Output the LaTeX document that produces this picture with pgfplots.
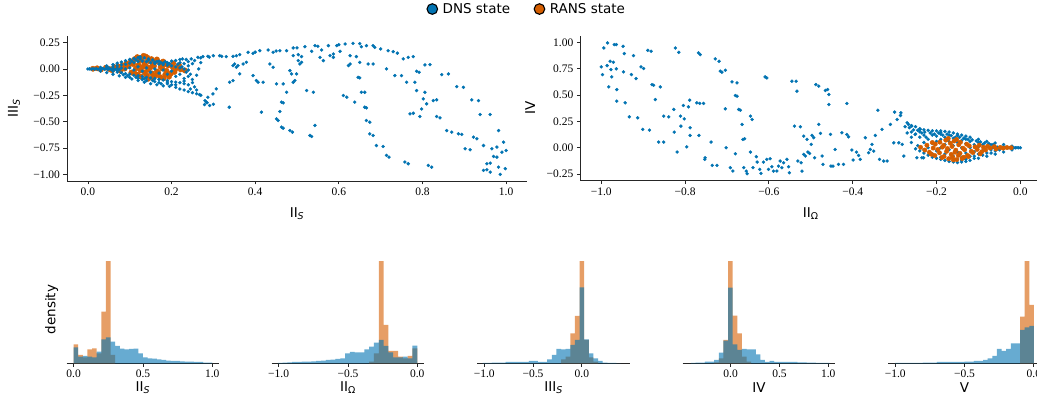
\documentclass[border=0pt]{standalone}
\usepackage{pgfplots}
\pgfplotsset{compat=1.18}
\usepackage{fontspec}
\setmainfont{Liberation Serif}
\newfontfamily\dejavu{DejaVu Sans}
\definecolor{dnsblue}{HTML}{0173B2}
\definecolor{ransorange}{HTML}{D55E00}
\newcommand{\lblfont}{\dejavu\fontsize{13.5}{16}\selectfont}
\pgfplotsset{
  base/.style={scale only axis, axis line style={-, line width=0.8pt, black!85},
    tick style={line width=0.8pt, black!85}, tick align=outside, major tick length=3.5pt,
    ticklabel style={font=\fontsize{11.5}{13}\selectfont}},
  scat/.style={base, axis x line*=bottom, axis y line*=left, width=460pt, height=145pt},
  hist/.style={base, axis x line*=bottom, axis y line=none, width=152.5pt, height=107.4pt,
    ymin=0, ymax=322.35},
  bluedot/.style={color=dnsblue, only marks, mark=*, mark size=1.5pt, forget plot},
  orangedot/.style={color=ransorange, only marks, mark=*, mark size=#1, forget plot},
  bh/.style={ybar interval, fill=dnsblue, fill opacity=0.6, draw=none, forget plot},
  oh/.style={ybar interval, fill=ransorange, fill opacity=0.6, draw=none, forget plot},
}
\begin{document}
\begin{tikzpicture}
\useasboundingbox (0pt,0pt) rectangle (1037pt,402pt);
% ---------------- top left
\begin{axis}[scat, name=tl, at={(67pt,221pt)}, anchor=south west,
  xmin=-0.05, xmax=1.05, ymin=-1.0625, ymax=0.3125,
  xtick={0,0.2,0.4,0.6,0.8,1.0}, xticklabels={0.0,0.2,0.4,0.6,0.8,1.0},
  ytick={-1,-0.75,-0.5,-0.25,0,0.25}, yticklabels={−1.00,−0.75,−0.50,−0.25,0.00,0.25},
  legend style={at={(1.0,1.186)}, anchor=center, draw=none, fill=none, legend columns=2,
    font=\lblfont, /tikz/every even column/.append style={column sep=22pt},
    /tikz/every odd column/.append style={column sep=3pt}}]
\addlegendimage{only marks, mark=*, mark size=5.3pt, mark options={fill=dnsblue, draw=black, line width=1.1pt}}
\addlegendentry{DNS state}
\addlegendimage{only marks, mark=*, mark size=5.3pt, mark options={fill=ransorange, draw=black, line width=1.1pt}}
\addlegendentry{RANS state}
\addplot[orangedot=2.7pt] coordinates {
(0.012,0.002)(0.022,0.006)(0.031,-0.006)(0.043,0.012)(0.052,-0.002)(0.063,0.017)(0.058,-0.012)(0.072,0.024)(0.083,0.034)(0.078,-0.018)
(0.092,0.052)(0.088,0.004)(0.103,0.072)(0.097,0.028)(0.104,-0.034)(0.112,0.093)(0.108,0.047)(0.115,0.006)(0.112,-0.043)(0.118,0.112)
(0.124,0.082)(0.121,0.036)(0.126,-0.013)(0.119,-0.055)(0.133,0.124)(0.128,0.093)(0.135,0.058)(0.131,0.018)(0.136,-0.034)(0.127,-0.072)
(0.142,0.108)(0.146,0.074)(0.139,0.027)(0.144,-0.008)(0.141,-0.063)(0.152,0.093)(0.155,0.046)(0.149,0.013)(0.153,-0.042)(0.156,-0.083)
(0.163,0.072)(0.158,0.028)(0.165,-0.024)(0.161,-0.063)(0.172,0.058)(0.174,0.018)(0.168,-0.036)(0.173,-0.078)(0.183,0.043)(0.178,0.004)
(0.185,-0.054)(0.192,0.034)(0.188,-0.018)(0.194,-0.073)(0.203,0.016)(0.198,-0.044)(0.212,0.008)(0.207,-0.028)(0.222,-0.004)(0.232,-0.014)
(0.218,0.034)(0.204,0.052)(0.181,-0.088)(0.144,-0.093)(0.125,0.104)(0.138,0.118)(0.165,0.09)(0.18,0.07)
};
\addplot[bluedot] coordinates {
(0.000,0.000)(0.004,0.001)(0.008,-0.001)(0.012,0.002)(0.016,-0.002)(0.020,0.003)(0.024,-0.003)(0.028,0.002)(0.032,-0.004)(0.036,0.004)
(0.040,-0.003)(0.044,0.005)(0.048,-0.005)(0.052,0.003)(0.056,-0.006)(0.060,0.006)(0.065,-0.004)(0.070,0.008)(0.075,-0.008)
(0.03,0.015)(0.045,0.028)(0.06,0.04)(0.07,0.055)(0.08,0.065)(0.09,0.078)(0.1,0.09)(0.11,0.1)(0.12,0.108)(0.125,0.115)
(0.135,0.105)(0.145,0.095)(0.155,0.085)(0.17,0.075)(0.185,0.07)(0.2,0.075)(0.21,0.08)(0.22,0.06)(0.23,0.05)(0.24,0.03)
(0.03,-0.02)(0.045,-0.035)(0.06,-0.05)(0.075,-0.065)(0.09,-0.08)(0.105,-0.095)(0.12,-0.11)(0.135,-0.125)(0.15,-0.14)(0.165,-0.15)
(0.18,-0.16)(0.195,-0.165)(0.21,-0.175)(0.22,-0.19)(0.23,-0.2)(0.24,-0.215)(0.25,-0.225)(0.26,-0.235)(0.267,-0.243)(0.27,-0.25)
(0.05,0.01)(0.06,0.02)(0.07,0.03)(0.08,0.04)(0.09,0.045)(0.1,0.055)(0.11,0.06)(0.12,0.07)(0.13,0.075)(0.14,0.07)
(0.15,0.06)(0.16,0.05)(0.17,0.045)(0.18,0.04)(0.19,0.035)(0.2,0.03)(0.21,0.02)(0.22,0.01)(0.23,0.0)(0.24,-0.01)
(0.06,-0.02)(0.07,-0.03)(0.08,-0.035)(0.09,-0.045)(0.1,-0.05)(0.11,-0.06)(0.12,-0.065)(0.13,-0.07)(0.14,-0.08)(0.15,-0.085)
(0.16,-0.09)(0.17,-0.1)(0.18,-0.105)(0.19,-0.11)(0.2,-0.12)(0.21,-0.125)(0.22,-0.13)(0.23,-0.14)(0.24,-0.15)
(0.09,0.0)(0.1,0.01)(0.11,-0.01)(0.12,0.02)(0.13,-0.02)(0.14,0.01)(0.15,-0.03)(0.16,0.0)(0.17,-0.04)(0.18,-0.01)
(0.19,-0.05)(0.2,-0.02)(0.21,-0.07)(0.22,-0.05)(0.23,-0.09)(0.24,-0.07)(0.25,-0.1)(0.2,-0.15)(0.19,-0.14)(0.17,-0.13)
(0.16,-0.12)(0.14,-0.11)(0.13,-0.1)(0.18,0.055)(0.19,0.06)(0.165,0.07)(0.1,-0.08)(0.12,-0.09)(0.08,0.01)(0.07,-0.015)
(0.25,0.05)(0.24,0.07)(0.235,0.09)(0.255,0.08)(0.22,0.09)
(0.105,0.075)(0.115,0.085)(0.125,0.095)(0.145,0.085)(0.16,0.065)(0.175,0.06)(0.195,0.05)(0.215,0.045)(0.225,0.02)(0.235,-0.03)
(0.245,-0.05)(0.23,-0.115)(0.21,-0.15)(0.19,-0.125)(0.175,-0.14)(0.155,-0.11)(0.135,-0.09)(0.115,-0.08)(0.095,-0.065)(0.085,-0.055)
(0.255,-0.17)(0.245,-0.19)(0.26,-0.2)(0.25,-0.13)(0.26,-0.06)(0.265,0.0)(0.27,0.06)
(0.226,0.095)(0.247,0.095)(0.263,0.110)(0.275,0.117)(0.287,0.120)(0.300,0.126)(0.315,0.126)(0.331,0.117)(0.347,0.120)(0.363,0.136)
(0.383,0.158)(0.395,0.148)(0.411,0.173)(0.431,0.180)(0.443,0.158)(0.459,0.173)(0.475,0.173)(0.491,0.199)(0.519,0.211)(0.543,0.221)
(0.575,0.221)(0.595,0.221)(0.615,0.237)(0.634,0.243)(0.654,0.211)(0.666,0.221)(0.682,0.221)(0.686,0.205)(0.718,0.173)(0.730,0.164)
(0.778,0.117)(0.491,0.126)(0.503,0.135)(0.511,0.117)(0.535,0.167)(0.559,0.180)(0.587,0.142)(0.603,0.167)(0.627,0.126)(0.642,0.117)
(0.650,0.063)(0.27,0.105)(0.29,0.112)(0.32,0.12)(0.355,0.125)(0.40,0.16)(0.45,0.17)(0.50,0.20)(0.55,0.215)(0.60,0.23)
(0.65,0.24)(0.70,0.19)(0.74,0.15)
(0.347,0.032)(0.351,0.047)(0.355,0.016)(0.359,0.032)(0.363,-0.047)(0.339,-0.126)(0.347,-0.110)(0.307,-0.189)(0.299,-0.237)(0.287,-0.268)
(0.283,-0.315)(0.279,-0.338)(0.291,-0.347)(0.338,-0.363)(0.403,-0.110)(0.419,-0.126)(0.415,-0.410)(0.451,-0.473)(0.455,-0.489)(0.459,-0.404)
(0.463,-0.315)(0.467,-0.322)(0.475,-0.221)(0.483,-0.016)(0.487,-0.047)(0.491,-0.126)(0.495,-0.110)(0.499,-0.047)(0.463,-0.552)(0.467,-0.562)
(0.483,-0.584)(0.489,-0.599)(0.531,-0.631)(0.535,-0.640)(0.543,-0.536)(0.523,-0.205)(0.539,-0.221)(0.507,0.047)(0.511,0.063)(0.503,0.079)
(0.555,0.110)(0.563,0.079)(0.579,0.126)(0.587,0.110)(0.451,-0.142)(0.467,-0.142)(0.435,0.047)(0.443,0.016)(0.395,-0.063)(0.407,-0.126)
(0.371,0.047)(0.379,0.063)(0.623,0.032)(0.627,0.047)(0.646,-0.079)(0.650,-0.085)(0.654,-0.221)(0.662,-0.221)(0.611,-0.252)(0.619,-0.268)
(0.638,-0.315)(0.662,-0.363)(0.666,-0.369)(0.666,-0.489)(0.674,-0.505)(0.674,-0.615)(0.682,-0.631)(0.690,-0.726)(0.706,-0.735)(0.714,-0.820)
(0.720,-0.836)(0.758,-0.883)(0.766,-0.899)(0.814,-0.915)(0.822,-0.931)(0.670,0.047)(0.682,0.047)(0.714,0.000)(0.734,-0.063)(0.750,-0.063)
(0.762,-0.126)(0.782,-0.126)(0.786,-0.205)(0.806,-0.221)(0.802,-0.284)(0.810,-0.331)(0.826,-0.300)(0.834,-0.293)(0.798,-0.379)(0.778,-0.420)
(0.770,-0.426)(0.794,-0.451)(0.834,-0.451)(0.842,-0.464)(0.858,-0.584)(0.870,-0.599)(0.886,-0.615)(0.894,-0.621)(0.902,-0.757)(0.914,-0.767)
(0.922,-0.647)(0.930,-0.662)(0.946,-0.726)(0.966,-0.757)(0.954,-0.899)(0.962,-0.893)(0.946,-0.962)(0.954,-0.956)(0.962,-0.978)(0.982,-0.931)
(0.986,-1.000)(0.990,-0.789)(0.994,-0.694)(1.000,-0.773)(0.998,-0.946)(0.978,-0.741)(0.970,-0.830)(0.978,-0.836)(0.982,-0.584)(0.962,-0.432)
(0.938,-0.432)(0.934,-0.300)(0.918,-0.293)(0.898,-0.174)(0.882,-0.167)(0.862,-0.047)(0.846,-0.054)(0.818,0.041)(0.806,0.038)(0.792,-0.032)
(0.786,-0.022)(0.754,0.095)(0.766,0.110)(0.28,-0.3)(0.285,-0.32)(0.30,-0.335)
};
\end{axis}
% ---------------- top right
\begin{axis}[scat, name=tr, at={(580.3pt,221.3pt)}, anchor=south west, width=461pt,
  xmin=-1.05, xmax=0.05, ymin=-0.3125, ymax=1.0625,
  xtick={-1,-0.8,-0.6,-0.4,-0.2,0}, xticklabels={−1.0,−0.8,−0.6,−0.4,−0.2,0.0},
  ytick={-0.25,0,0.25,0.5,0.75,1}, yticklabels={−0.25,0.00,0.25,0.50,0.75,1.00}]
\addplot[bluedot] coordinates {
(-1.000,0.767)(-0.997,0.694)(-0.994,0.946)(-0.985,0.994)(-0.986,0.779)(-0.982,0.577)(-0.979,0.820)(-0.977,0.741)(-0.975,0.672)(-0.971,0.811)
(-0.969,0.978)(-0.964,0.978)(-0.964,0.748)(-0.963,0.552)(-0.963,0.442)(-0.948,0.962)(-0.945,0.893)(-0.943,0.426)(-0.947,0.719)(-0.933,0.293)
(-0.928,0.694)(-0.923,0.874)(-0.917,0.656)(-0.913,0.284)(-0.905,0.767)(-0.901,0.174)(-0.899,0.751)(-0.889,0.924)(-0.885,0.167)(-0.881,0.915)
(-0.879,0.599)(-0.875,0.593)(-0.871,0.457)(-0.863,0.054)(-0.859,0.577)(-0.851,0.054)(-0.851,0.300)(-0.839,0.293)(-0.827,0.363)(-0.826,0.148)
(-0.823,0.946)(-0.819,-0.041)(-0.815,0.905)(-0.811,0.300)(-0.810,0.205)(-0.804,0.401)(-0.802,0.274)(-0.796,0.009)(-0.792,0.388)(-0.789,0.451)
(-0.788,0.117)(-0.788,0.189)(-0.772,0.426)(-0.768,0.899)(-0.764,0.883)(-0.767,0.117)(-0.765,0.420)(-0.756,0.420)(-0.753,-0.110)(-0.752,-0.095)
(-0.738,0.054)(-0.735,-0.167)(-0.728,0.842)(-0.724,-0.167)(-0.719,0.820)(-0.716,0.726)(-0.712,0.716)(-0.704,0.735)(-0.704,0.369)(-0.702,0.000)
(-0.692,-0.189)(-0.688,0.625)(-0.686,-0.221)(-0.680,-0.057)(-0.680,0.495)(-0.676,0.615)(-0.676,0.489)(-0.672,0.363)(-0.668,0.356)(-0.664,0.221)
(-0.662,0.079)(-0.660,-0.189)(-0.658,0.085)(-0.654,-0.221)(-0.652,-0.246)(-0.644,-0.041)(-0.644,0.300)(-0.640,0.268)(-0.638,-0.189)(-0.630,-0.085)
(-0.628,-0.136)(-0.622,-0.205)(-0.619,-0.243)(-0.613,-0.136)(-0.609,0.672)(-0.605,0.662)(-0.605,-0.110)(-0.601,-0.205)(-0.597,-0.104)(-0.593,-0.180)
(-0.589,-0.221)(-0.581,-0.221)(-0.577,-0.174)(-0.573,-0.126)(-0.569,-0.189)(-0.565,-0.142)(-0.557,-0.110)(-0.553,-0.180)(-0.551,-0.237)(-0.545,0.631)
(-0.539,0.205)(-0.535,0.631)(-0.533,0.536)(-0.531,-0.126)(-0.525,0.199)(-0.523,-0.142)(-0.521,-0.221)(-0.517,0.110)(-0.517,-0.063)(-0.513,-0.079)
(-0.509,0.079)(-0.507,-0.041)(-0.503,-0.054)(-0.499,0.032)(-0.497,0.117)(-0.493,0.095)(-0.491,-0.095)(-0.488,0.599)(-0.481,0.584)(-0.481,0.221)
(-0.477,0.136)(-0.473,-0.079)(-0.471,-0.158)(-0.465,0.543)(-0.460,0.552)(-0.457,0.505)(-0.457,0.410)(-0.453,0.126)(-0.452,-0.174)(-0.447,-0.174)
(-0.442,-0.016)(-0.434,-0.158)(-0.426,0.142)(-0.422,-0.158)(-0.414,0.126)(-0.414,0.420)(-0.410,0.104)(-0.402,-0.022)(-0.399,-0.117)(-0.391,-0.041)
(-0.386,-0.073)(-0.382,-0.110)(-0.370,0.095)(-0.362,-0.047)(-0.358,-0.016)(-0.354,0.032)(-0.350,-0.032)(-0.346,0.117)(-0.340,0.356)(-0.336,-0.110)
(-0.330,0.174)(-0.326,-0.126)(-0.318,-0.126)(-0.310,0.221)(-0.302,0.047)(-0.300,0.338)(-0.294,0.268)(-0.290,0.047)(-0.286,0.306)(-0.285,0.331)
(-0.282,0.032)(-0.278,-0.079)(-0.270,0.237)(-0.267,0.221)(-0.259,0.205)(-0.251,0.126)(-0.247,-0.095)(-0.239,0.174)(-0.235,-0.095)(-0.231,-0.095)
(0,0)(-0.004,0.0)(-0.008,0.001)(-0.012,-0.001)(-0.016,0.001)(-0.02,-0.002)(-0.025,0.002)(-0.03,-0.002)(-0.035,0.003)(-0.04,-0.003)
(-0.045,0.004)(-0.05,-0.004)(-0.055,0.005)(-0.06,-0.005)(-0.065,0.004)(-0.07,-0.006)
(-0.26,0.21)(-0.25,0.2)(-0.24,0.18)(-0.23,0.17)(-0.22,0.165)(-0.21,0.16)(-0.2,0.16)(-0.19,0.16)(-0.18,0.155)(-0.17,0.15)
(-0.16,0.14)(-0.15,0.13)(-0.14,0.12)(-0.13,0.11)(-0.12,0.1)(-0.1,0.08)(-0.08,0.06)(-0.06,0.045)(-0.04,0.03)(-0.02,0.015)
(-0.24,-0.03)(-0.23,-0.05)(-0.22,-0.07)(-0.21,-0.09)(-0.2,-0.1)(-0.19,-0.11)(-0.18,-0.12)(-0.17,-0.13)(-0.16,-0.135)(-0.15,-0.14)
(-0.14,-0.135)(-0.13,-0.13)(-0.12,-0.12)(-0.1,-0.1)(-0.08,-0.08)(-0.06,-0.06)(-0.04,-0.04)(-0.02,-0.02)
(-0.24,0.1)(-0.23,0.05)(-0.23,0.12)(-0.22,0.0)(-0.22,0.08)(-0.21,0.04)(-0.21,0.12)(-0.2,-0.03)(-0.2,0.06)(-0.2,0.11)
(-0.19,0.0)(-0.19,0.08)(-0.18,-0.06)(-0.18,0.03)(-0.18,0.1)(-0.17,-0.02)(-0.17,0.06)(-0.16,-0.08)(-0.16,0.02)(-0.16,0.09)
(-0.15,-0.04)(-0.15,0.05)(-0.14,-0.09)(-0.14,0.0)(-0.14,0.07)(-0.13,-0.05)(-0.13,0.04)(-0.12,-0.08)(-0.12,0.0)(-0.12,0.06)
(-0.11,-0.04)(-0.11,0.03)(-0.1,-0.06)(-0.1,0.01)(-0.1,0.05)(-0.09,-0.03)(-0.09,0.03)(-0.08,-0.05)(-0.08,0.01)(-0.07,-0.02)
(-0.07,0.03)(-0.06,-0.03)(-0.06,0.01)(-0.05,0.0)(-0.05,-0.02)(-0.04,0.01)(-0.24,0.15)(-0.25,0.13)(-0.26,0.15)(-0.25,-0.01)
(-0.26,0.05)(-0.19,0.13)(-0.17,0.12)(-0.13,0.08)(-0.15,-0.11)(-0.17,-0.1)(-0.13,-0.11)(-0.11,-0.1)
(-0.235,0.14)(-0.225,0.1)(-0.215,0.14)(-0.205,0.13)(-0.195,0.14)(-0.185,0.12)(-0.175,0.13)(-0.165,0.115)(-0.155,0.1)(-0.145,0.1)
(-0.135,0.09)(-0.125,0.08)(-0.115,0.075)(-0.105,0.065)(-0.095,0.055)(-0.085,0.045)(-0.075,0.04)(-0.065,0.03)(-0.255,0.17)(-0.245,0.165)
(-0.265,0.19)(-0.275,0.2)(-0.228,0.148)(-0.19,0.145)(-0.15,0.115)(-0.11,-0.08)(-0.09,-0.07)(-0.07,-0.05)(-0.16,-0.12)(-0.14,-0.12)
(-0.19,-0.09)(-0.21,-0.06)(-0.23,-0.02)(-0.245,0.02)(-0.26,0.1)(-0.27,0.14)
};
\addplot[orangedot=2.2pt] coordinates {
(-0.238,0.004)(-0.228,-0.022)(-0.223,0.024)(-0.217,-0.043)(-0.208,-0.003)(-0.212,-0.062)(-0.203,0.034)(-0.197,-0.017)(-0.204,-0.074)(-0.192,0.053)
(-0.186,0.006)(-0.193,-0.048)(-0.187,-0.093)(-0.178,0.072)(-0.183,0.022)(-0.176,-0.034)(-0.182,-0.083)(-0.172,0.088)(-0.167,0.043)(-0.174,-0.008)
(-0.165,-0.063)(-0.171,-0.104)(-0.158,0.064)(-0.163,0.012)(-0.156,-0.042)(-0.162,-0.088)(-0.152,0.078)(-0.147,0.028)(-0.154,-0.023)(-0.148,-0.072)
(-0.152,-0.112)(-0.143,0.052)(-0.137,-0.004)(-0.144,-0.053)(-0.139,-0.102)(-0.128,0.034)(-0.133,-0.018)(-0.126,-0.073)(-0.122,0.018)(-0.117,-0.034)
(-0.124,-0.084)(-0.108,0.008)(-0.113,-0.046)(-0.098,0.024)(-0.103,-0.016)(-0.096,-0.058)(-0.088,0.004)(-0.092,-0.038)(-0.078,0.014)(-0.083,-0.022)
(-0.072,-0.003)(-0.062,0.01)(-0.058,-0.012)(-0.048,0.003)(-0.041,-0.004)(-0.032,0.002)(-0.022,0.0)(-0.16,-0.115)(-0.135,-0.09)(-0.21,0.05)
};
\end{axis}
% ---------------- histograms
\begin{axis}[hist, name=h1, at={(66.7pt,38.7pt)}, anchor=south west,
  xmin=-0.05, xmax=1.05, xtick={0,0.5,1}, xticklabels={0.0,0.5,1.0}]
\addplot[oh] coordinates {(0,57)(0.0333,25)(0.0667,18)(0.1,42)(0.1333,45)(0.1667,30)(0.2,155)(0.2333,307)(0.2667,25)(0.3,25)};
\addplot[bh] coordinates {(0,48)(0.0333,20)(0.0667,22)(0.1,20)(0.1333,18)(0.1667,35)(0.2,72)(0.2333,78)(0.2667,65)(0.3,52)
(0.3333,44)(0.3667,42)(0.4,43)(0.4333,44)(0.4667,30)(0.5,18)(0.5333,15)(0.5667,14)(0.6,12)(0.6333,10)
(0.6667,8)(0.7,7)(0.7333,7)(0.7667,6)(0.8,5)(0.8333,5)(0.8667,4)(0.9,4)(0.9333,2)(0.9667,2)(1.0,2)};
\end{axis}
\begin{axis}[hist, name=h2, at={(271.7pt,38.7pt)}, anchor=south west,
  xmin=-1.05, xmax=0.05, xtick={-1,-0.5,0}, xticklabels={−1.0,−0.5,0.0}]
\addplot[oh] coordinates {(-0.3470,5)(-0.3123,30)(-0.2776,307)(-0.2429,115)(-0.2082,37)(-0.1735,37)(-0.1388,20)(-0.1041,15)(-0.0694,22)(-0.0347,45)(0.0,45)};
\addplot[bh] coordinates {(-1.0063,1)(-0.9716,2)(-0.9369,3)(-0.9022,4)(-0.8675,4)(-0.8328,5)(-0.7981,5)(-0.7634,6)(-0.7287,7)(-0.6940,8)
(-0.6593,10)(-0.6246,11)(-0.5899,13)(-0.5552,15)(-0.5205,30)(-0.4858,34)(-0.4511,33)(-0.4164,33)(-0.3817,42)(-0.3470,50)
(-0.3123,62)(-0.2776,70)(-0.2429,52)(-0.2082,33)(-0.1735,18)(-0.1388,18)(-0.1041,20)(-0.0694,15)(-0.0347,53)(0.0,53)};
\end{axis}
\begin{axis}[hist, name=h3, at={(477.3pt,38.7pt)}, anchor=south west,
  xmin=-1.071, xmax=0.491, xtick={-1,-0.5,0}, xticklabels={−1.0,−0.5,0.0}]
\addplot[oh] coordinates {(-0.2129,12)(-0.1656,20)(-0.1183,90)(-0.071,142)(-0.0237,307)(0.0236,70)(0.0709,18)(0.1182,5)(0.1655,5)};
\addplot[bh] coordinates {(-1.017,1)(-0.9697,1)(-0.9224,2)(-0.8751,2)(-0.8278,2)(-0.7805,4)(-0.7332,4)(-0.6859,4)(-0.6386,4)(-0.5913,4)
(-0.544,7)(-0.4967,7)(-0.4494,4)(-0.4021,4)(-0.3548,12)(-0.3075,25)(-0.2602,43)(-0.2129,42)(-0.1656,43)(-0.1183,55)
(-0.071,70)(-0.0237,228)(0.0236,72)(0.0709,30)(0.1182,15)(0.1655,7)(0.2128,2)(0.2601,1)(0.3074,1)(0.3547,0)(0.402,0)};
\end{axis}
\begin{axis}[hist, name=h4, at={(682.7pt,38.7pt)}, anchor=south west,
  xmin=-0.491, xmax=1.071, xtick={0,0.5,1}, xticklabels={0.0,0.5,1.0}]
\addplot[oh] coordinates {(-0.1685,3)(-0.1212,15)(-0.0739,70)(-0.0266,307)(0.0207,143)(0.068,90)(0.1153,20)(0.1626,5)(0.2099,5)};
\addplot[bh] coordinates {(-0.405,1)(-0.3577,2)(-0.3104,2)(-0.2631,5)(-0.2158,5)(-0.1685,10)(-0.1212,32)(-0.0739,68)(-0.0266,227)(0.0207,57)
(0.068,40)(0.1153,43)(0.1626,42)(0.2099,42)(0.2572,27)(0.3045,10)(0.3518,4)(0.3991,7)(0.4464,4)(0.4937,4)
(0.541,4)(0.5883,4)(0.6356,4)(0.6829,3)(0.7302,3)(0.7775,2)(0.8248,2)(0.8721,1)(0.9194,1)(0.9667,1)(1.014,1)};
\end{axis}
\begin{axis}[hist, name=h5, at={(888.3pt,38.7pt)}, anchor=south west,
  xmin=-1.05, xmax=0.05, xtick={-1,-0.5,0}, xticklabels={−1.0,−0.5,0.0}]
\addplot[oh] coordinates {(-0.1,140)(-0.0667,307)(-0.0333,175)(0.0,175)};
\addplot[bh] coordinates {(-1.0,1)(-0.9667,1)(-0.9333,1)(-0.9,1)(-0.8667,1)(-0.8333,1)(-0.8,2)(-0.7667,2)(-0.7333,2)(-0.7,4)
(-0.6667,4)(-0.6333,4)(-0.6,4)(-0.5667,4)(-0.5333,4)(-0.5,5)(-0.4667,5)(-0.4333,7)(-0.4,7)(-0.3667,10)
(-0.3333,15)(-0.3,22)(-0.2667,43)(-0.2333,37)(-0.2,43)(-0.1667,60)(-0.1333,60)(-0.1,100)(-0.0667,108)(-0.0333,112)(0.0,112)};
\end{axis}
% ---------------- labels
\node[font=\lblfont] at ([yshift=-33pt]tl.south) {II\textsubscript{\textit{S}}};
\node[font=\lblfont, rotate=90] at ([xshift=-53pt]tl.west) {III\textsubscript{\textit{S}}};
\node[font=\lblfont] at ([yshift=-33pt]tr.south) {II\textsubscript{Ω}};
\node[font=\lblfont, rotate=90] at ([xshift=-50pt]tr.west) {IV};
\node[font=\lblfont, rotate=90] at ([xshift=-15pt]h1.west) {density};
\node[font=\lblfont] at ([yshift=-24pt]h1.south) {II\textsubscript{\textit{S}}};
\node[font=\lblfont] at ([yshift=-24pt]h2.south) {II\textsubscript{Ω}};
\node[font=\lblfont] at ([yshift=-24pt]h3.south) {III\textsubscript{\textit{S}}};
\node[font=\lblfont] at ([yshift=-24pt]h4.south) {IV};
\node[font=\lblfont] at ([yshift=-24pt]h5.south) {V};
\end{tikzpicture}
\end{document}
